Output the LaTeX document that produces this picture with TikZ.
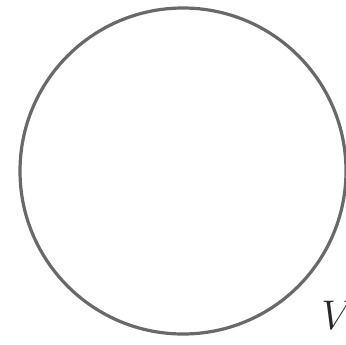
\documentclass[tikz,border=0pt]{standalone}
\definecolor{rim}{RGB}{105,105,105}
\definecolor{ink}{RGB}{40,40,40}
\begin{document}
\begin{tikzpicture}[x=0.5pt,y=-0.5pt,
 every node/.style={text=ink},
 ring/.style={rim,line width=1.6pt},
 tag/.style={font=\fontsize{22}{26}\selectfont\itshape,anchor=west,inner sep=0pt}]
 \useasboundingbox (0,0) rectangle (346,344);
 % The region, cut off at the right edge as in the original scan.
 \draw[ring] (183,171) circle[radius=163];
 \node[tag] (vlabel) at (321,315) {$V$};
\end{tikzpicture}
\end{document}
